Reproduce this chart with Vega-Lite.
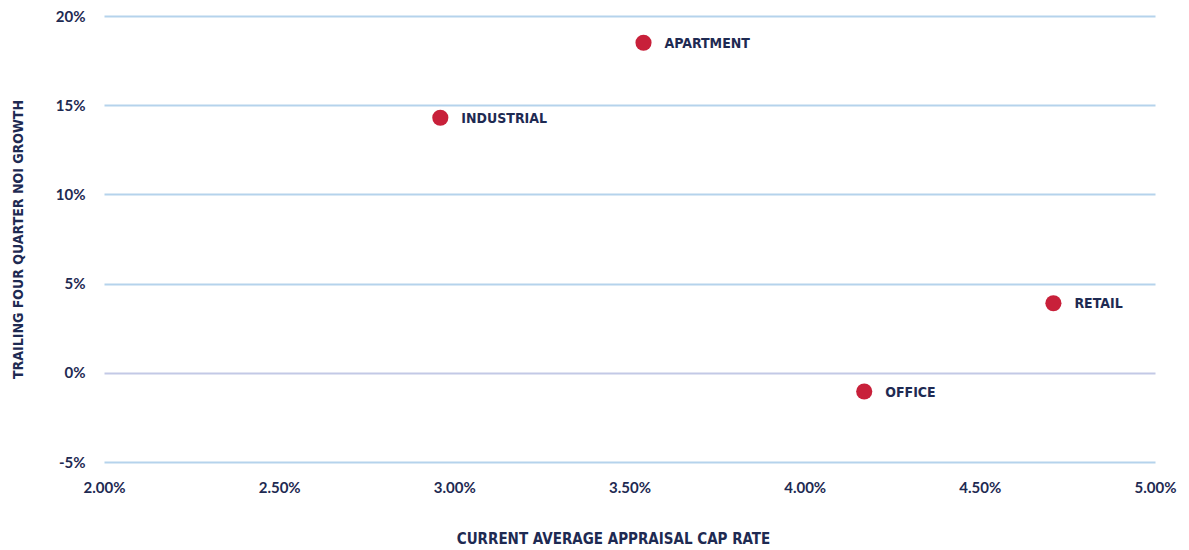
{
  "$schema": "https://vega.github.io/schema/vega-lite/v6.json",
  "autosize": {"type": "none"},
  "width": 1051,
  "height": 446,
  "padding": {"left": 104, "top": 16, "right": 34, "bottom": 88},
  "background": "white",
  "config": {
    "view": {"stroke": null},
    "axis": {
      "labelFont": "Lato",
      "labelFontWeight": "bold",
      "labelFontSize": 15,
      "labelColor": "#1e2a52",
      "titleFont": "DejaVu Sans Condensed, Roboto, sans-serif",
      "titleFontWeight": "bold",
      "titleFontSize": 14,
      "titleColor": "#1e2a52",
      "domain": false,
      "ticks": false
    }
  },
  "data": {
    "values": [
      {"sector": "APARTMENT", "cap": 0.0354, "noi": 0.185},
      {"sector": "INDUSTRIAL", "cap": 0.0296, "noi": 0.143},
      {"sector": "RETAIL", "cap": 0.0471, "noi": 0.039},
      {"sector": "OFFICE", "cap": 0.0417, "noi": -0.0105}
    ]
  },
  "encoding": {
    "x": {
      "field": "cap",
      "type": "quantitative",
      "scale": {"domain": [0.02, 0.05], "nice": false, "zero": false},
      "axis": {
        "title": "CURRENT AVERAGE APPRAISAL  CAP RATE",
        "format": ".2%",
        "values": [0.02, 0.025, 0.03, 0.035, 0.04, 0.045, 0.05],
        "grid": false,
        "labelFlush": false,
        "labelPadding": 18,
        "titleFontSize": 15,
        "titleX": 509,
        "titleAlign": "center",
        "titleY": 76,
        "titleBaseline": "middle"
      }
    },
    "y": {
      "field": "noi",
      "type": "quantitative",
      "scale": {"domain": [-0.05, 0.2], "nice": false, "zero": false},
      "axis": {
        "title": "TRAILING FOUR QUARTER NOI GROWTH",
        "format": ".0%",
        "labelExpr": "replace(datum.label, '\u2212', '-')",
        "values": [-0.05, 0, 0.05, 0.1, 0.15, 0.2],
        "grid": true,
        "gridWidth": 2,
        "gridColor": {"condition": {"test": "datum.value === 0", "value": "#c3c9e6"}, "value": "#b5d3ec"},
        "labelPadding": 19,
        "titleX": -86,
        "titleBaseline": "middle"
      }
    }
  },
  "layer": [
    {
      "mark": {"type": "circle", "size": 260, "color": "#c8203a", "opacity": 1}
    },
    {
      "mark": {"type": "text", "align": "left", "baseline": "middle", "dx": 21, "dy": 1, "font": "DejaVu Sans Condensed, Roboto, sans-serif", "fontWeight": "bold", "fontSize": 14, "color": "#1e2a52"},
      "encoding": {"text": {"field": "sector"}}
    }
  ]
}
